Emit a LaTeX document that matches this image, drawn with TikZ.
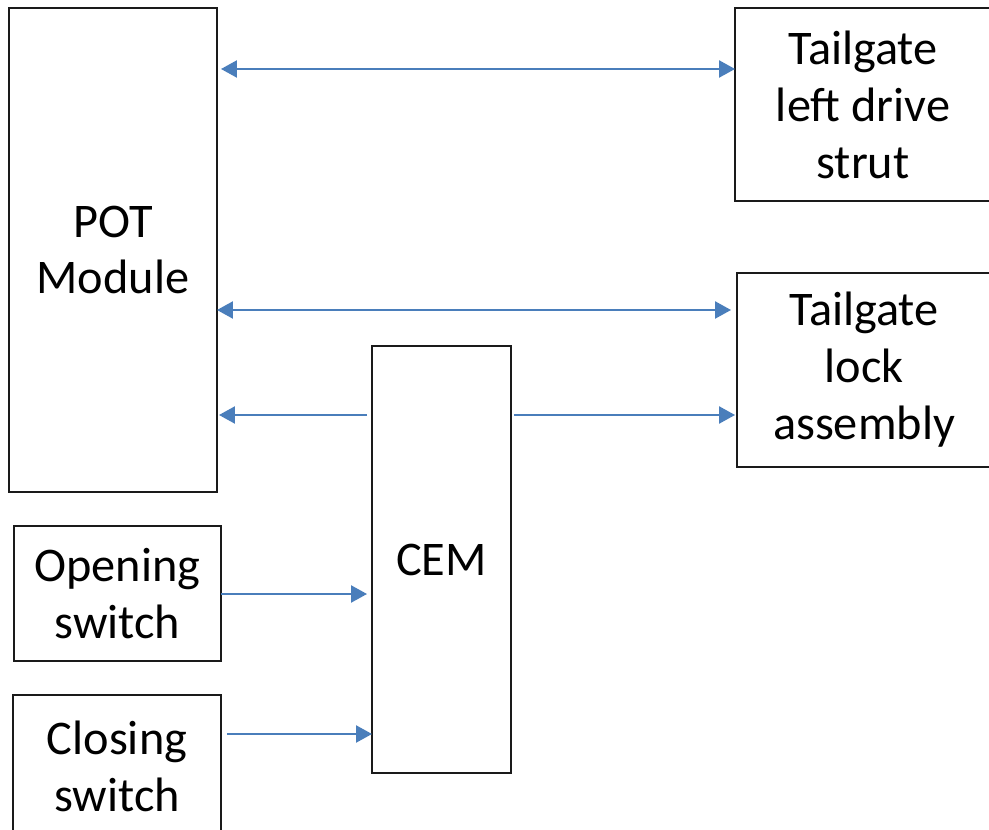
\documentclass[tikz,border=0pt]{standalone}
\usepackage{fontspec}
\setmainfont{Carlito}
\usetikzlibrary{arrows.meta}
\definecolor{linkblue}{HTML}{4A7EBB}
\definecolor{boxline}{HTML}{1A1A1A}
\tikzset{
  block/.style={draw=boxline, line width=1.1pt, fill=white, inner sep=0pt, outer sep=0pt,
    align=center, font=\fontsize{27.5}{32.4}\selectfont},
  link/.style={draw=linkblue, line width=1.3pt, -{Triangle[length=0.32cm,width=0.34cm]}},
  biarrow/.style={link, {Triangle[length=0.32cm,width=0.34cm]}-{Triangle[length=0.32cm,width=0.34cm]}}
}
\begin{document}
\begin{tikzpicture}[x=0.02cm, y=-0.02cm]
\useasboundingbox (0,0) rectangle (989,830);
\begin{scope}
\clip (0,0) rectangle (989,830);
\node[block, minimum width=4.16cm, minimum height=9.68cm] (pot) at (113,250) {POT\\Module}; % POT module
\node[block, minimum width=5.12cm, minimum height=3.86cm] (strut) at (863,104.5) {Tailgate\\left drive\\strut}; % drive strut
\node[block, minimum width=5.08cm, minimum height=3.88cm] (lock) at (864,370) {Tailgate\\lock\\assembly}; % lock
\node[block, minimum width=2.78cm, minimum height=8.54cm] (cem) at (441.5,559.5) {CEM}; % CEM
\node[block, minimum width=4.14cm, minimum height=2.7cm] (opening) at (117.5,593.5) {Opening\\switch}; % opening switch
\node[block, minimum width=4.16cm, minimum height=2.84cm] (closing) at (117,766) {Closing\\switch}; % closing switch
\end{scope}
\draw[biarrow, shorten <=0.08cm] (pot.east |- 0,69) -- (strut.west |- 0,69); % strut link
\draw[biarrow, shorten >=0.12cm] (pot.east |- 0,310) -- (lock.west |- 0,310); % lock link
\draw[link, shorten <=0.1cm, shorten >=0.04cm] (cem.west |- 0,415) -- (pot.east |- 0,415); % CEM to POT
\draw[link, shorten <=0.06cm, shorten >=0.04cm] (cem.east |- 0,415) -- (lock.west |- 0,415); % CEM to lock
\draw[link, shorten >=0.1cm] (opening.east |- 0,594) -- (cem.west |- 0,594); % opening
\draw[link, shorten <=0.12cm] (closing.east |- 0,734) -- (cem.west |- 0,734); % closing
\end{tikzpicture}
\end{document}
